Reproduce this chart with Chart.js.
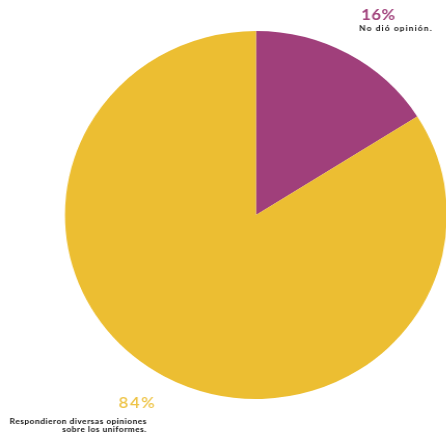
<!DOCTYPE html>
<html>
<head>
<meta charset="utf-8">
<script src="https://cdn.jsdelivr.net/npm/chart.js@4/dist/chart.umd.min.js"></script>
<style>
  html, body { margin: 0; padding: 0; background: #ffffff; overflow: hidden; }
  body { width: 446px; height: 438px; position: relative; }
  #wrap {
    position: absolute; left: 0; top: 0;
    width: 450px; height: 438px;
    transform: scaleX(1.038); transform-origin: 0 0;
  }
</style>
</head>
<body>
<div id="wrap"><canvas id="c"></canvas></div>
<script>
// Survey answers about school uniforms
const categories = ['No dió opinión.', 'Respondieron diversas opiniones sobre los uniformes.'];
const shares = [16, 84];
const sliceColors = ['#A03F7B', '#ECBE32'];
const labelColors = ['#A2457E', '#EEC447'];

// draws text with its left edge (align 'left') or right edge (align 'right') at x
function spacedText(ctx, text, x, y, spacing, align) {
  ctx.letterSpacing = spacing + 'px';
  ctx.textAlign = 'left';
  let w = ctx.measureText(text).width;
  if (align === 'right') {
    w -= spacing; // ignore trailing space after the last glyph
    ctx.fillText(text, x - w, y);
  } else {
    ctx.fillText(text, x, y);
  }
  ctx.letterSpacing = '0px';
}

// Percentage + caption labels next to the slices
const calloutLabels = {
  id: 'calloutLabels',
  afterDraw(chart) {
    const ctx = chart.ctx;
    const pct = v => v + '%';
    ctx.save();
    ctx.textBaseline = 'alphabetic';

    // small slice, top right
    ctx.fillStyle = labelColors[0];
    ctx.font = 'bold 16px Lato, "Open Sans", sans-serif';
    spacedText(ctx, pct(shares[0]), 348, 20, 0.5, 'left');
    ctx.fillStyle = '#111111';
    ctx.font = 'bold 8px Lato, "Open Sans", sans-serif';
    spacedText(ctx, categories[0], 346, 31, 1.1, 'left');

    // large slice, bottom left
    ctx.fillStyle = labelColors[1];
    ctx.font = '600 16px Lato, "Open Sans", sans-serif';
    spacedText(ctx, pct(shares[1]), 149, 408, 1.6, 'right');
    ctx.fillStyle = '#111111';
    ctx.font = 'bold 8px Lato, "Open Sans", sans-serif';
    spacedText(ctx, 'Respondieron diversas opiniones', 141, 424, 0.5, 'right');
    spacedText(ctx, 'sobre los uniformes.', 141, 432, 0.5, 'right');
    ctx.restore();
  }
};

new Chart(document.getElementById('c'), {
  type: 'pie',
  data: {
    labels: categories,
    datasets: [{
      data: shares,
      backgroundColor: sliceColors,
      borderWidth: 0,
      hoverOffset: 0
    }]
  },
  options: {
    responsive: true,
    maintainAspectRatio: false,
    animation: false,
    layout: { padding: { left: 62.6, right: 19.4, top: 31, bottom: 39 } },
    plugins: {
      legend: { display: false },
      tooltip: { enabled: false }
    }
  },
  plugins: [calloutLabels]
});
</script>
</body>
</html>
